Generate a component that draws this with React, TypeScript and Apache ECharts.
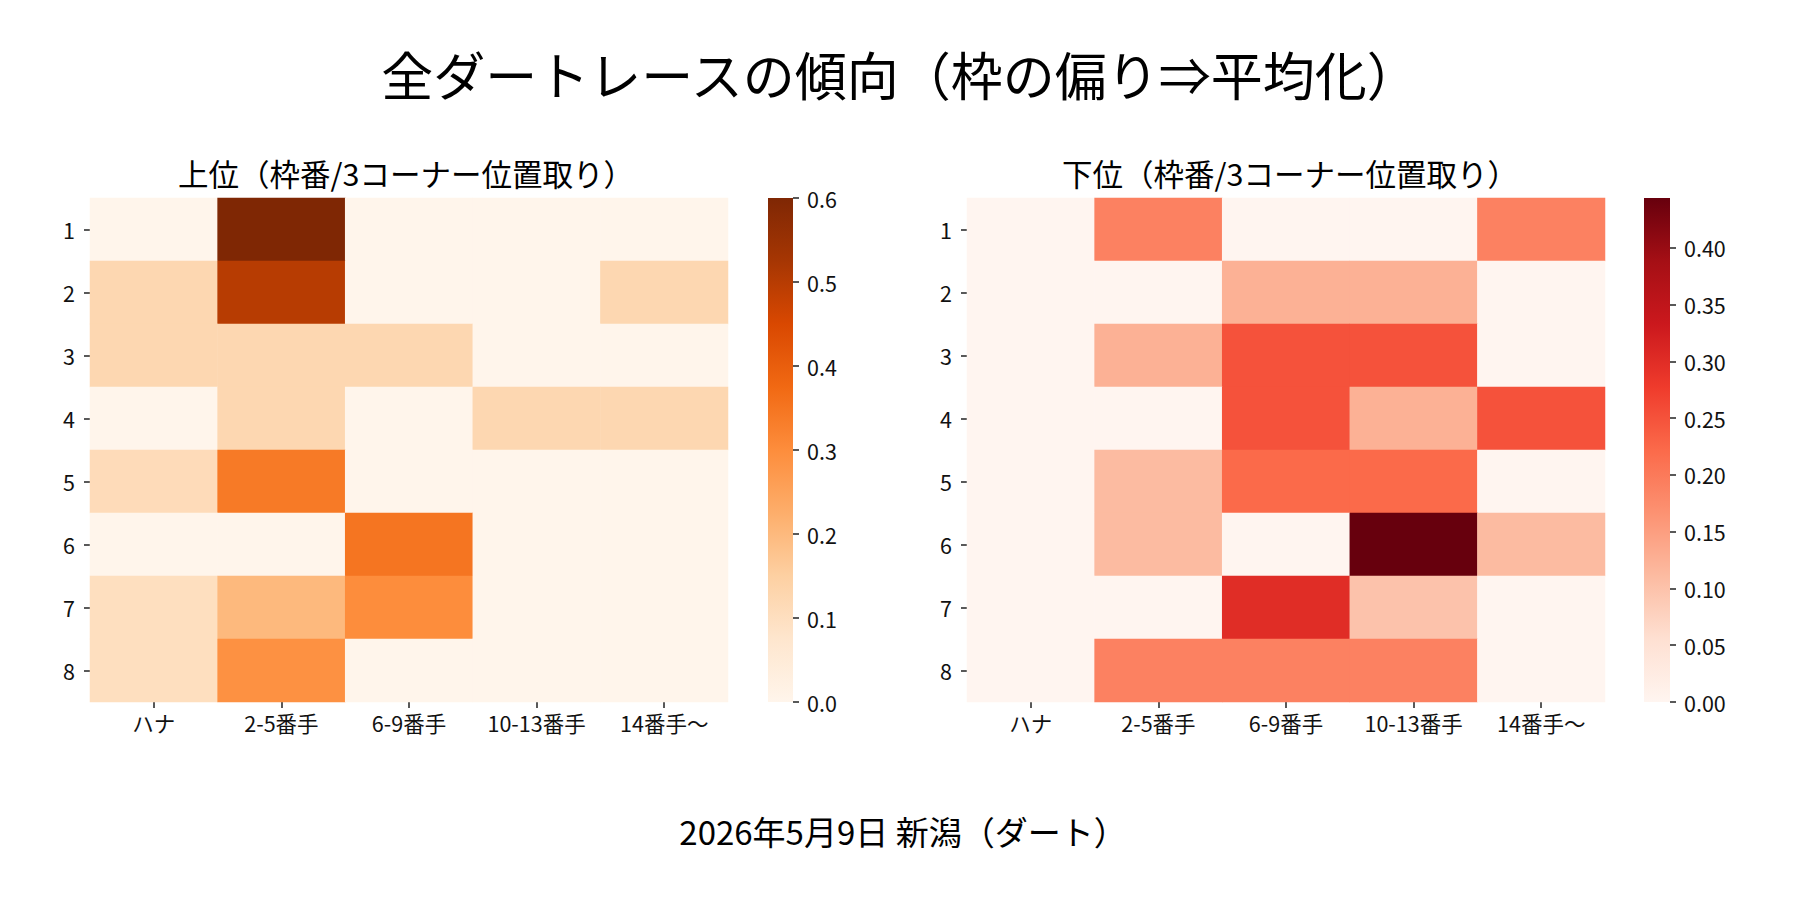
import React, { useEffect, useRef } from "react";
import * as echarts from "echarts";

const positions = ["ハナ", "2-5番手", "6-9番手", "10-13番手", "14番手〜"];
const frames = ["1", "2", "3", "4", "5", "6", "7", "8"];

// 上位 (rows = 枠番 1..8, cols = positions)
const topRow1 = [0, 0.6, 0, 0, 0];
const topRow2 = [0.125, 0.5, 0, 0, 0.125];
const topRow3 = [0.125, 0.125, 0.125, 0, 0];
const topRow4 = [0, 0.125, 0, 0.125, 0.125];
const topRow5 = [0.111, 0.34, 0, 0, 0];
const topRow6 = [0, 0, 0.35, 0, 0];
const topRow7 = [0.1, 0.2, 0.3, 0, 0];
const topRow8 = [0.1, 0.29, 0, 0, 0];
const topValues = [topRow1, topRow2, topRow3, topRow4, topRow5, topRow6, topRow7, topRow8];

// 下位
const botRow1 = [0, 0.19, 0, 0, 0.19];
const botRow2 = [0, 0, 0.125, 0.125, 0];
const botRow3 = [0, 0.125, 0.25, 0.25, 0];
const botRow4 = [0, 0, 0.25, 0.125, 0.25];
const botRow5 = [0, 0.111, 0.222, 0.222, 0];
const botRow6 = [0, 0.111, 0, 0.444, 0.111];
const botRow7 = [0, 0, 0.3, 0.1, 0];
const botRow8 = [0, 0.19, 0.19, 0.19, 0];
const bottomValues = [botRow1, botRow2, botRow3, botRow4, botRow5, botRow6, botRow7, botRow8];

const topTicks = [0, 0.1, 0.2, 0.3, 0.4, 0.5, 0.6];
const bottomTicks = [0, 0.05, 0.1, 0.15, 0.2, 0.25, 0.3, 0.35, 0.4];

const mainTitle = "全ダートレースの傾向（枠の偏り⇒平均化）";
const leftTitle = "上位（枠番/3コーナー位置取り）";
const rightTitle = "下位（枠番/3コーナー位置取り）";
const caption = "2026年5月9日 新潟（ダート）";

const oranges = ["#fff5eb", "#fee6ce", "#fdd0a2", "#fdae6b", "#fd8d3c", "#f16913", "#d94801", "#a63603", "#7f2704"];
const reds = ["#fff5f0", "#fee0d2", "#fcbba1", "#fc9272", "#fb6a4a", "#ef3b2c", "#cb181d", "#a50f15", "#67000d"];

const FONT = "'Noto Sans CJK JP', 'Noto Sans', sans-serif";

function toCells(rows: number[][]) {
  const out: [number, number, number][] = [];
  rows.forEach((row, y) => row.forEach((v, x) => out.push([x, y, v])));
  return out;
}

function gradient(colors: string[]) {
  return new echarts.graphic.LinearGradient(
    0, 1, 0, 0,
    colors.map((c, i) => ({ offset: i / (colors.length - 1), color: c }))
  );
}

export default function App() {
  const ref = useRef<HTMLDivElement>(null);
  useEffect(() => {
    document.body.style.margin = "0";
    if (!ref.current) return;
    const chart = echarts.init(ref.current, undefined, { renderer: "svg" });
    const vmaxTop = Math.max(...topValues.flat());
    const vmaxBot = Math.max(...bottomValues.flat());

    const heatX = (gi: number) => ({
      type: "category" as const,
      gridIndex: gi,
      data: positions,
      axisLine: { show: false },
      axisTick: { show: true, alignWithLabel: true, length: 6, lineStyle: { color: "#222", width: 1.5 } },
      axisLabel: { fontSize: 21.5, color: "#111", margin: 10, interval: 0, fontFamily: FONT },
      splitLine: { show: false },
    });
    const heatY = (gi: number) => ({
      type: "category" as const,
      gridIndex: gi,
      data: frames,
      inverse: true,
      axisLine: { show: false },
      axisTick: { show: true, alignWithLabel: true, length: 6, lineStyle: { color: "#222", width: 1.5 } },
      axisLabel: { fontSize: 21.5, color: "#111", margin: 15, fontFamily: FONT },
      splitLine: { show: false },
    });
    const cbX = (gi: number) => ({ type: "category" as const, gridIndex: gi, data: ["cb"], show: false });
    const cbY = (gi: number, max: number, ticks: number[], digits: number, interval: number) => ({
      type: "value" as const,
      gridIndex: gi,
      position: "right" as const,
      min: 0,
      max,
      interval,
      axisLine: { show: false },
      axisTick: { show: true, length: 6, customValues: ticks, lineStyle: { color: "#222", width: 1.5 } },
      axisLabel: {
        customValues: ticks,
        fontSize: 21.5,
        color: "#111",
        margin: 14,
        fontFamily: FONT,
        formatter: (v: number) => v.toFixed(digits),
      },
      splitLine: { show: false },
    });

    chart.setOption({
      animation: false,
      backgroundColor: "#ffffff",
      textStyle: { fontFamily: FONT },
      grid: [
        { left: 90, top: 198, width: 638, height: 504 },
        { left: 768, top: 198, width: 25, height: 504 },
        { left: 967, top: 198, width: 638, height: 504 },
        { left: 1644, top: 198, width: 26, height: 504 },
      ],
      xAxis: [heatX(0), cbX(1), heatX(2), cbX(3)],
      yAxis: [
        heatY(0),
        cbY(1, vmaxTop, topTicks, 1, 0.1),
        heatY(2),
        cbY(3, vmaxBot, bottomTicks, 2, 0.05),
      ],
      visualMap: [
        { type: "continuous", show: false, seriesIndex: 0, min: 0, max: vmaxTop, dimension: 2, inRange: { color: oranges } },
        { type: "continuous", show: false, seriesIndex: 2, min: 0, max: vmaxBot, dimension: 2, inRange: { color: reds } },
      ],
      series: [
        {
          type: "heatmap",
          xAxisIndex: 0,
          yAxisIndex: 0,
          data: toCells(topValues),
          silent: true,
          itemStyle: { borderWidth: 0 },
          emphasis: { disabled: true },
        },
        {
          type: "bar",
          xAxisIndex: 1,
          yAxisIndex: 1,
          data: [vmaxTop],
          barWidth: "100%",
          silent: true,
          itemStyle: { color: gradient(oranges) },
        },
        {
          type: "heatmap",
          xAxisIndex: 2,
          yAxisIndex: 2,
          data: toCells(bottomValues),
          silent: true,
          itemStyle: { borderWidth: 0 },
          emphasis: { disabled: true },
        },
        {
          type: "bar",
          xAxisIndex: 3,
          yAxisIndex: 3,
          data: [vmaxBot],
          barWidth: "100%",
          silent: true,
          itemStyle: { color: gradient(reds) },
        },
      ],
      graphic: [
        { type: "text", x: 900, y: 73, style: { text: mainTitle, fontSize: 52, fontFamily: FONT, fill: "#000", align: "center", verticalAlign: "middle" } },
        { type: "text", x: 406, y: 173, style: { text: leftTitle, fontSize: 30.5, fontFamily: FONT, fill: "#000", align: "center", verticalAlign: "middle" } },
        { type: "text", x: 1290, y: 173, style: { text: rightTitle, fontSize: 30.5, fontFamily: FONT, fill: "#000", align: "center", verticalAlign: "middle" } },
        { type: "text", x: 903, y: 831, style: { text: caption, fontSize: 33, fontFamily: FONT, fill: "#000", align: "center", verticalAlign: "middle" } },
      ],
    });
    return () => chart.dispose();
  }, []);
  return <div ref={ref} style={{ width: 1800, height: 900 }} />;
}
